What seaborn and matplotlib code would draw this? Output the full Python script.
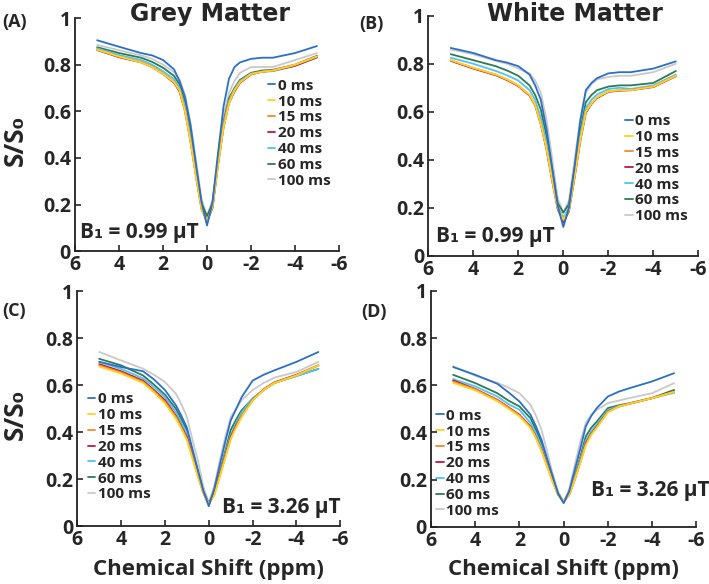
import pandas as pd
import numpy as np
import matplotlib
matplotlib.use('Agg')
import matplotlib.pyplot as plt
import seaborn as sns

# Offsets de frecuencia (ppm) y tiempos de espera
ppm = [5, 4, 3, 2.5, 2, 1.5, 1.25, 1, 0.75, 0.5, 0.25, 0,
       -0.25, -0.5, -0.75, -1, -1.25, -1.5, -2, -2.5, -3, -4, -5]
delays = ['0 ms', '10 ms', '15 ms', '20 ms', '40 ms', '60 ms', '100 ms']
colors = ['#2a6fc9', '#ffd21f', '#f08a2c', '#c0163e', '#4fc4f2', '#2f7a55', '#c9c9c9']

# (A) Grey matter, B1 = 0.99 uT
a_0 = [0.905, 0.877, 0.85, 0.84, 0.82, 0.78, 0.73, 0.66, 0.54, 0.37, 0.21, 0.11,
       0.21, 0.42, 0.62, 0.74, 0.79, 0.81, 0.825, 0.83, 0.83, 0.85, 0.88]
a_10 = [0.865, 0.835, 0.81, 0.79, 0.76, 0.725, 0.69, 0.60, 0.47, 0.32, 0.18, 0.13,
        0.19, 0.37, 0.53, 0.635, 0.69, 0.725, 0.76, 0.77, 0.775, 0.80, 0.835]
a_15 = [0.865, 0.835, 0.812, 0.792, 0.762, 0.727, 0.69, 0.605, 0.475, 0.325, 0.185, 0.13,
        0.19, 0.375, 0.535, 0.64, 0.69, 0.725, 0.76, 0.77, 0.775, 0.798, 0.835]
a_20 = [0.863, 0.832, 0.81, 0.79, 0.76, 0.722, 0.685, 0.60, 0.47, 0.32, 0.18, 0.13,
        0.185, 0.37, 0.53, 0.635, 0.685, 0.722, 0.758, 0.77, 0.775, 0.795, 0.832]
a_40 = [0.87, 0.842, 0.82, 0.80, 0.772, 0.738, 0.70, 0.62, 0.49, 0.34, 0.19, 0.12,
        0.19, 0.38, 0.545, 0.645, 0.695, 0.73, 0.762, 0.77, 0.772, 0.795, 0.83]
a_60 = [0.875, 0.85, 0.83, 0.812, 0.787, 0.752, 0.715, 0.64, 0.51, 0.355, 0.205, 0.15,
        0.205, 0.39, 0.555, 0.655, 0.70, 0.735, 0.765, 0.775, 0.778, 0.80, 0.838]
a_100 = [0.885, 0.862, 0.84, 0.825, 0.80, 0.768, 0.735, 0.67, 0.55, 0.39, 0.225, 0.15,
         0.22, 0.41, 0.58, 0.68, 0.73, 0.765, 0.79, 0.79, 0.79, 0.82, 0.85]

# (B) White matter, B1 = 0.99 uT
b_0 = [0.866, 0.845, 0.815, 0.805, 0.79, 0.755, 0.71, 0.65, 0.53, 0.37, 0.21, 0.12,
       0.20, 0.37, 0.56, 0.69, 0.72, 0.74, 0.76, 0.765, 0.765, 0.78, 0.81]
b_10 = [0.815, 0.783, 0.755, 0.735, 0.71, 0.67, 0.63, 0.55, 0.45, 0.32, 0.20, 0.15,
        0.19, 0.33, 0.48, 0.60, 0.635, 0.66, 0.685, 0.69, 0.69, 0.705, 0.75]
b_15 = [0.815, 0.783, 0.755, 0.735, 0.71, 0.67, 0.63, 0.55, 0.45, 0.32, 0.20, 0.15,
        0.19, 0.33, 0.48, 0.60, 0.635, 0.66, 0.685, 0.69, 0.69, 0.705, 0.75]
b_20 = [0.812, 0.78, 0.752, 0.732, 0.707, 0.667, 0.627, 0.548, 0.445, 0.315, 0.195, 0.14,
        0.185, 0.325, 0.475, 0.595, 0.632, 0.657, 0.683, 0.688, 0.69, 0.703, 0.748]
b_40 = [0.825, 0.80, 0.77, 0.752, 0.73, 0.69, 0.65, 0.575, 0.47, 0.335, 0.205, 0.16,
        0.20, 0.345, 0.50, 0.615, 0.65, 0.672, 0.695, 0.70, 0.695, 0.71, 0.755]
b_60 = [0.84, 0.815, 0.79, 0.772, 0.75, 0.71, 0.67, 0.61, 0.50, 0.36, 0.22, 0.18,
        0.215, 0.365, 0.52, 0.64, 0.67, 0.69, 0.705, 0.71, 0.71, 0.72, 0.77]
b_100 = [0.86, 0.84, 0.812, 0.80, 0.78, 0.76, 0.73, 0.68, 0.57, 0.41, 0.24, 0.18,
         0.23, 0.40, 0.57, 0.68, 0.715, 0.735, 0.745, 0.75, 0.75, 0.765, 0.80]

# (C) Grey matter, B1 = 3.26 uT
c_0 = [0.70, 0.678, 0.66, 0.625, 0.58, 0.515, 0.47, 0.42, 0.33, 0.24, 0.15, 0.085,
       0.16, 0.26, 0.36, 0.45, 0.50, 0.55, 0.62, 0.645, 0.664, 0.70, 0.742]
c_10 = [0.68, 0.65, 0.61, 0.57, 0.523, 0.458, 0.415, 0.366, 0.29, 0.21, 0.14, 0.095,
        0.13, 0.21, 0.29, 0.37, 0.42, 0.465, 0.535, 0.58, 0.61, 0.642, 0.685]
c_15 = [0.685, 0.655, 0.615, 0.575, 0.53, 0.465, 0.42, 0.373, 0.295, 0.215, 0.14, 0.095,
        0.135, 0.215, 0.295, 0.375, 0.425, 0.47, 0.537, 0.582, 0.612, 0.643, 0.685]
c_20 = [0.69, 0.66, 0.62, 0.58, 0.537, 0.47, 0.425, 0.38, 0.30, 0.22, 0.145, 0.095,
        0.14, 0.22, 0.30, 0.38, 0.43, 0.47, 0.537, 0.583, 0.613, 0.645, 0.685]
c_40 = [0.70, 0.67, 0.63, 0.593, 0.55, 0.485, 0.44, 0.395, 0.31, 0.225, 0.145, 0.09,
        0.145, 0.225, 0.31, 0.39, 0.44, 0.485, 0.545, 0.58, 0.61, 0.64, 0.67]
c_60 = [0.713, 0.685, 0.642, 0.603, 0.56, 0.50, 0.455, 0.41, 0.32, 0.235, 0.15, 0.095,
        0.15, 0.23, 0.32, 0.41, 0.455, 0.494, 0.543, 0.58, 0.61, 0.64, 0.67]
c_100 = [0.742, 0.706, 0.671, 0.645, 0.614, 0.564, 0.52, 0.465, 0.37, 0.28, 0.17, 0.10,
         0.17, 0.28, 0.38, 0.465, 0.50, 0.537, 0.58, 0.61, 0.633, 0.657, 0.70]

# (D) White matter, B1 = 3.26 uT
d_0 = [0.677, 0.644, 0.606, 0.57, 0.531, 0.475, 0.425, 0.368, 0.29, 0.215, 0.14, 0.10,
       0.15, 0.24, 0.33, 0.425, 0.47, 0.503, 0.552, 0.573, 0.588, 0.616, 0.651]
d_10 = [0.61, 0.578, 0.532, 0.50, 0.468, 0.418, 0.375, 0.32, 0.255, 0.19, 0.135, 0.11,
        0.135, 0.20, 0.27, 0.345, 0.39, 0.42, 0.485, 0.51, 0.522, 0.545, 0.572]
d_15 = [0.615, 0.582, 0.536, 0.505, 0.472, 0.422, 0.378, 0.323, 0.258, 0.192, 0.135, 0.11,
        0.135, 0.20, 0.272, 0.348, 0.392, 0.422, 0.487, 0.51, 0.522, 0.545, 0.572]
d_20 = [0.62, 0.584, 0.538, 0.507, 0.475, 0.425, 0.38, 0.326, 0.26, 0.195, 0.135, 0.11,
        0.135, 0.20, 0.275, 0.354, 0.395, 0.425, 0.488, 0.51, 0.522, 0.545, 0.573]
d_40 = [0.626, 0.595, 0.552, 0.52, 0.496, 0.44, 0.395, 0.34, 0.27, 0.20, 0.135, 0.105,
        0.14, 0.21, 0.285, 0.365, 0.405, 0.435, 0.495, 0.512, 0.522, 0.545, 0.568]
d_60 = [0.644, 0.609, 0.566, 0.535, 0.51, 0.46, 0.41, 0.354, 0.28, 0.205, 0.14, 0.105,
        0.145, 0.215, 0.295, 0.383, 0.42, 0.446, 0.503, 0.515, 0.524, 0.546, 0.58]
d_100 = [0.68, 0.64, 0.61, 0.59, 0.566, 0.517, 0.47, 0.41, 0.32, 0.225, 0.15, 0.105,
         0.16, 0.26, 0.36, 0.44, 0.475, 0.495, 0.524, 0.535, 0.546, 0.566, 0.609]

panels = [
    ('(A)', [a_0, a_10, a_15, a_20, a_40, a_60, a_100], 'B\u2081 = 0.99 \u00b5T'),
    ('(B)', [b_0, b_10, b_15, b_20, b_40, b_60, b_100], 'B\u2081 = 0.99 \u00b5T'),
    ('(C)', [c_0, c_10, c_15, c_20, c_40, c_60, c_100], 'B\u2081 = 3.26 \u00b5T'),
    ('(D)', [d_0, d_10, d_15, d_20, d_40, d_60, d_100], 'B\u2081 = 3.26 \u00b5T'),
]

sns.set_style('ticks')
plt.rcParams['font.family'] = ['Open Sans', 'DejaVu Sans']
plt.rcParams['font.weight'] = 'bold'
plt.rcParams['axes.linewidth'] = 1.3
plt.rcParams['axes.edgecolor'] = '#222222'

fig = plt.figure(figsize=(7.09, 5.84), dpi=100)

# posiciones de los ejes (fracción de la figura)
rects = [
    [0.106, 0.570, 0.372, 0.399],
    [0.604, 0.562, 0.381, 0.411],
    [0.109, 0.099, 0.371, 0.402],
    [0.608, 0.098, 0.374, 0.404],
]
# posición de la leyenda (esquina superior izquierda, coords de ejes)
legend_pos = [(0.73, 0.74), (0.73, 0.59), (0.04, 0.57), (0.02, 0.50)]
b1_pos = [(0.02, 0.08, 'left'), (0.03, 0.08, 'left'), (1.0, 0.08, 'right'), (1.05, 0.155, 'right')]
# etiquetas de panel (x, y en coords de figura)
tag_pos = [(0.003, 0.978), (0.506, 0.975), (0.003, 0.483), (0.510, 0.481)]
titles = [('Grey Matter', 0.296), ('White Matter', 0.811)]

for i, (tag, series, b1_text) in enumerate(panels):
    ax = fig.add_axes(rects[i])
    rows = []
    for d, vals in zip(delays, series):
        for x, y in zip(ppm, vals):
            rows.append({'ppm': x, 'signal': y, 'delay': d})
    df = pd.DataFrame(rows)
    sns.lineplot(data=df, x='ppm', y='signal', hue='delay', hue_order=delays[::-1],
                 palette=dict(zip(delays, colors)), sort=False, linewidth=1.3, ax=ax)

    ax.set_xlim(6, -6)
    ax.set_ylim(0, 1)
    ax.set_xticks([6, 4, 2, 0, -2, -4, -6])
    ax.set_xticklabels(['6', '4', '2', '0', '-2', '-4', '-6'])
    ax.set_yticks([0, 0.2, 0.4, 0.6, 0.8, 1])
    ax.set_yticklabels(['0', '0.2', '0.4', '0.6', '0.8', '1'])
    ax.tick_params(direction='in', length=4, width=1.2, labelsize=14, pad=3)
    sns.despine(ax=ax)
    ax.set_xlabel('')
    ax.set_ylabel('')

    handles, labels = ax.get_legend_handles_labels()
    order = [labels.index(d) for d in delays]
    ax.legend([handles[k] for k in order], delays, loc='upper left',
              bbox_to_anchor=legend_pos[i], frameon=False, fontsize=11,
              handlelength=0.5, handletextpad=0.15, labelspacing=0.12,
              borderaxespad=0, borderpad=0)

    bx, by, ha = b1_pos[i]
    ax.text(bx, by, b1_text, transform=ax.transAxes, fontsize=15,
            fontweight='bold', ha=ha, va='center')

    # etiqueta del panel
    fig.text(tag_pos[i][0], tag_pos[i][1], tag, fontsize=13,
             fontweight='bold', ha='left', va='top')

    if i % 2 == 0:
        fig.text(0.022, rects[i][1] + rects[i][3] / 2 - 0.01, 'S/S\u2080', rotation=90,
                 fontsize=19, fontweight='bold', ha='center', va='center')
    if i >= 2:
        ax.set_xlabel('Chemical Shift (ppm)', fontsize=16, fontweight='bold', labelpad=6)

for title, tx in titles:
    fig.text(tx, 0.997, title, fontsize=17, fontweight='bold', ha='center',
             va='top', family=['DejaVu Sans'])

fig.savefig('out.png', dpi=100)
